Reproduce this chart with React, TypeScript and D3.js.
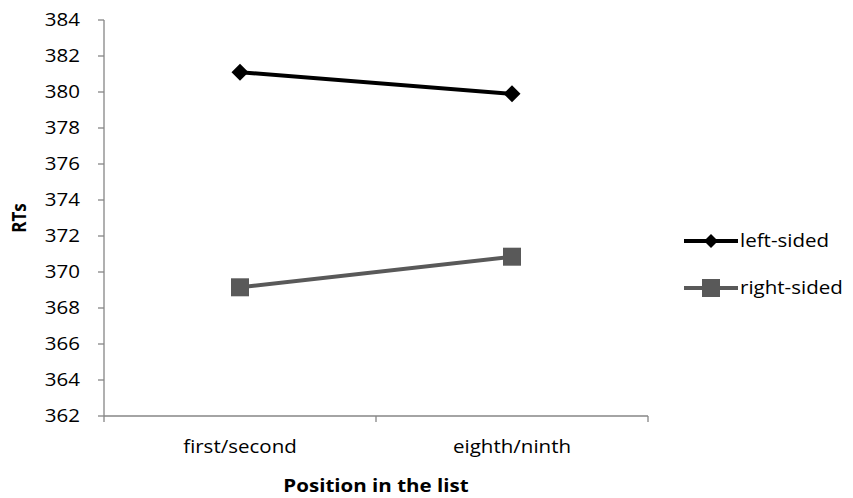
import React from "react";
import * as d3 from "d3";

const categories = ["first/second", "eighth/ninth"];
const leftSided = [381.1, 379.9];
const rightSided = [369.15, 370.85];
const yTicks = [362, 364, 366, 368, 370, 372, 374, 376, 378, 380, 382, 384];
const seriesNames = ["left-sided", "right-sided"];

const W = 853, H = 498;
const FONT = "'Open Sans', 'Liberation Sans', sans-serif";
const SX = 1.14;

function T(props: { x: number; y: number; anchor?: string; bold?: boolean; dy?: string; children: React.ReactNode }) {
  return (
    <text
      transform={`translate(${props.x},${props.y}) scale(${SX},1)`}
      textAnchor={props.anchor || "start"}
      dy={props.dy}
      fontSize={18}
      fontWeight={props.bold ? "bold" : "normal"}
      fill="#000"
    >
      {props.children}
    </text>
  );
}

export default function App() {
  const x0 = 104, x1 = 648, yTop = 20, yBot = 416;
  const x = d3.scaleBand<string>().domain(categories).range([x0, x1]);
  const y = d3.scaleLinear().domain([362, 384]).range([yBot, yTop]);
  const cx = (i: number) => x(categories[i])! + x.bandwidth() / 2;
  const line = d3.line<number>().x((_, i) => cx(i)).y((d) => y(d));
  const axisColor = "#868686";
  const bounds = [x0, ...categories.map((c) => x(c)! + x.bandwidth())];
  const diamond = (px: number, py: number, r: number) => `M${px},${py - r}L${px + r},${py}L${px},${py + r}L${px - r},${py}Z`;
  return (
    <svg width={W} height={H} style={{ position: "absolute", left: 0, top: 0, background: "#fff" }} fontFamily={FONT}>
      {/* y axis */}
      <line x1={x0} x2={x0} y1={yTop} y2={yBot} stroke={axisColor} strokeWidth={1.3} />
      {yTicks.map((t) => (
        <g key={t}>
          <line x1={x0 - 6} x2={x0} y1={y(t)} y2={y(t)} stroke={axisColor} strokeWidth={1.3} />
          <T x={x0 - 24} y={y(t)} dy="0.36em" anchor="end">{t}</T>
        </g>
      ))}
      {/* x axis */}
      <line x1={x0} x2={x1} y1={yBot} y2={yBot} stroke={axisColor} strokeWidth={1.3} />
      {bounds.map((b, i) => (
        <line key={i} x1={b} x2={b} y1={yBot} y2={yBot + 6} stroke={axisColor} strokeWidth={1.3} />
      ))}
      {categories.map((c, i) => (
        <T key={c} x={cx(i)} y={yBot + 37} anchor="middle">{c}</T>
      ))}
      <T x={(x0 + x1) / 2} y={492} anchor="middle" bold>Position in the list</T>
      <text transform={`translate(26,${(yTop + yBot) / 2}) rotate(-90) scale(1,${SX})`} textAnchor="middle" fontSize={17} fontWeight="bold">RTs</text>
      {/* series */}
      <path d={line(leftSided)!} fill="none" stroke="#000" strokeWidth={4} />
      {leftSided.map((v, i) => (
        <path key={i} d={diamond(cx(i), y(v), 8.5)} fill="#000" />
      ))}
      <path d={line(rightSided)!} fill="none" stroke="#595959" strokeWidth={4} />
      {rightSided.map((v, i) => (
        <rect key={i} x={cx(i) - 9} y={y(v) - 9} width={18} height={18} fill="#595959" />
      ))}
      {/* legend */}
      {seriesNames.map((n, i) => {
        const ly = 241 + i * 47;
        return (
          <g key={n}>
            <line x1={684} x2={738} y1={ly} y2={ly} stroke={i === 0 ? "#000" : "#595959"} strokeWidth={4} />
            {i === 0 ? <path d={diamond(711, ly, 7)} fill="#000" /> : <rect x={702} y={ly - 9} width={18} height={18} fill="#595959" />}
            <T x={740} y={ly} dy="0.36em">{n}</T>
          </g>
        );
      })}
    </svg>
  );
}
